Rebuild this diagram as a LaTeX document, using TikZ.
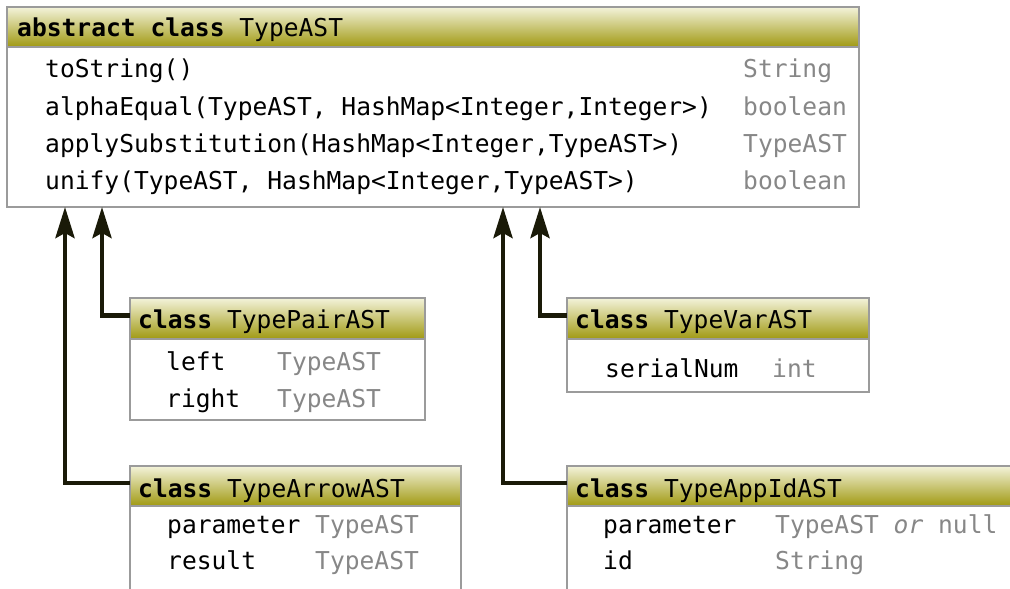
\documentclass[tikz,border=0pt]{standalone}
\usepackage{fontspec}
\setmonofont{DejaVu Sans Mono}
\usetikzlibrary{arrows.meta}

\definecolor{hdrtop}{RGB}{243,243,218}
\definecolor{hdrbot}{RGB}{160,153,18}
\definecolor{frame}{RGB}{155,155,155}
\definecolor{typegray}{RGB}{135,135,135}
\definecolor{arrowink}{RGB}{26,26,8}

\newcommand\codefont{\ttfamily\fontsize{24.7}{29}\selectfont}

\tikzset{
  classbox/.style={draw=frame, line width=1.8bp, fill=white, rectangle,
    inner sep=0pt, outer sep=0pt, anchor=north west},
  classhead/.style={classbox, top color=hdrtop, bottom color=hdrbot},
  code/.style={anchor=base west, inner sep=0pt, font=\codefont, yshift=-2bp},
  typ/.style={code, text=typegray},
  inherit/.style={draw=arrowink, line width=4.5bp, line join=miter,
    -{Stealth[length=31bp, width=19bp, inset=5bp]}},
}

\begin{document}
\begin{tikzpicture}[x=1bp, y=-1bp]
\useasboundingbox (0,0) rectangle (1010,589);
\clip (0,0) rectangle (1010,589);

% abstract base class
\node[classbox, minimum width=852bp, minimum height=200bp] (base) at (7,7) {};
\node[classhead, minimum width=852bp, minimum height=40bp] (basehead) at (7,7) {};
\node[code] (basetitle) at (17,35) {\textbf{abstract class} TypeAST};
\node[code] (m1) at (45,76) {toString()};
\node[code] (m2) at (45,113.3) {alphaEqual(TypeAST, HashMap<Integer,Integer>)};
\node[code] (m3) at (45,150.6) {applySubstitution(HashMap<Integer,TypeAST>)};
\node[code] (m4) at (45,188) {unify(TypeAST, HashMap<Integer,TypeAST>)};
\node[typ] (r1) at (743,76) {String};
\node[typ] (r2) at (743,113.3) {boolean};
\node[typ] (r3) at (743,150.6) {TypeAST};
\node[typ] (r4) at (743,188) {boolean};

% arrow targets on the base class
\coordinate (tipArrow) at ([xshift=58bp]base.south west);
\coordinate (tipPair)  at ([xshift=95bp]base.south west);
\coordinate (tipApp)   at ([xshift=496bp]base.south west);
\coordinate (tipVar)   at ([xshift=533bp]base.south west);

% TypePairAST
\node[classbox, minimum width=295bp, minimum height=122bp] (pair) at (130,298) {};
\node[classhead, minimum width=295bp, minimum height=41bp] (pairhead) at (130,298) {};
\node[code] (pairtitle) at (138,326) {\textbf{class} TypePairAST};
\node[code] (pf1) at (166,368) {left};
\node[typ]  (pt1) at (277,368) {TypeAST};
\node[code] (pf2) at (166,405) {right};
\node[typ]  (pt2) at (277,405) {TypeAST};

% TypeVarAST
\node[classbox, minimum width=302bp, minimum height=94bp] (var) at (567,298) {};
\node[classhead, minimum width=302bp, minimum height=41bp] (varhead) at (567,298) {};
\node[code] (vartitle) at (575,326) {\textbf{class} TypeVarAST};
\node[code] (vf1) at (605,375) {serialNum};
\node[typ]  (vt1) at (772,375) {int};

% TypeArrowAST
\node[classbox, minimum width=331bp, minimum height=160bp] (arrow) at (130,466) {};
\node[classhead, minimum width=331bp, minimum height=40bp] (arrowhead) at (130,466) {};
\node[code] (arrowtitle) at (138,495) {\textbf{class} TypeArrowAST};
\node[code] (af1) at (167,531) {parameter};
\node[typ]  (at1) at (315,531) {TypeAST};
\node[code] (af2) at (167,567) {result};
\node[typ]  (at2) at (315,567) {TypeAST};

% TypeAppIdAST
\node[classbox, minimum width=480bp, minimum height=160bp] (app) at (567,466) {};
\node[classhead, minimum width=480bp, minimum height=40bp] (apphead) at (567,466) {};
\node[code] (apptitle) at (575,495) {\textbf{class} TypeAppIdAST};
\node[code] (xf1) at (603,531) {parameter};
\node[typ]  (xt1) at (775,531) {TypeAST \textit{or} null};
\node[code] (xf2) at (603,567) {id};
\node[typ]  (xt2) at (775,567) {String};

% inheritance arrows
\draw[inherit] ([yshift=3bp]pairhead.west)  -| (tipPair);
\draw[inherit] ([yshift=3bp]arrowhead.west) -| (tipArrow);
\draw[inherit] ([yshift=3bp]varhead.west)   -| (tipVar);
\draw[inherit] ([yshift=3bp]apphead.west)   -| (tipApp);
\end{tikzpicture}
\end{document}
